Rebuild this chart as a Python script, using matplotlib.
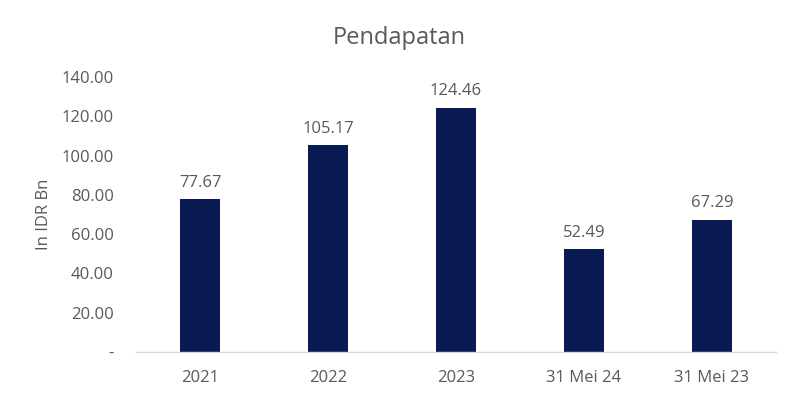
import matplotlib
matplotlib.use('Agg')
import matplotlib.pyplot as plt
from matplotlib.ticker import FuncFormatter

categories = ['2021', '2022', '2023', '31 Mei 24', '31 Mei 23']
values = [77.67, 105.17, 124.46, 52.49, 67.29]
yticks = [0, 20, 40, 60, 80, 100, 120, 140]

plt.rcParams['font.family'] = ['Open Sans', 'DejaVu Sans']
grey = '#595959'

fig = plt.figure(figsize=(7.99, 3.99), dpi=100)
ax = fig.add_axes([136 / 799, 47 / 399, 640 / 799, 275 / 399])

x = range(len(categories))
bars = ax.bar(x, values, width=0.31, color='#0A1A52')
for b, v in zip(bars, values):
    ax.annotate(f'{v:.2f}', (b.get_x() + b.get_width() / 2, v), xytext=(0, 6),
                textcoords='offset points', ha='center', va='bottom',
                fontsize=12, color=grey)

ax.set_xlim(-0.5, len(categories) - 0.5)
ax.set_ylim(0, 140)
ax.set_yticks(yticks)
ax.yaxis.set_major_formatter(FuncFormatter(lambda v, p: '-' if v == 0 else f'{v:.2f}'))
ax.set_xticks(list(x))
ax.set_xticklabels(categories)
ax.tick_params(axis='both', length=0, labelsize=12, labelcolor=grey)
ax.tick_params(axis='y', pad=16)
ax.tick_params(axis='x', pad=13)

for s in ['top', 'right', 'left']:
    ax.spines[s].set_visible(False)
ax.spines['bottom'].set_color('#D9D9D9')
ax.spines['bottom'].set_linewidth(1)

ax.set_ylabel('In IDR Bn', fontsize=12, color=grey, labelpad=7)
fig.text(0.5, 0.905, 'Pendapatan', ha='center', va='center', fontsize=17, color=grey)

plt.savefig('out.png', dpi=100)
